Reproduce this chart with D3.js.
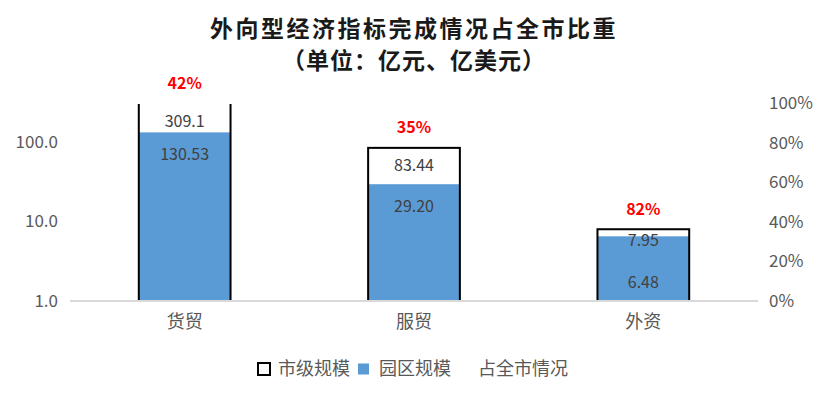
<!DOCTYPE html>
<html>
<head>
<meta charset="utf-8">
<script src="https://cdn.jsdelivr.net/npm/d3@7/dist/d3.min.js"></script>
<style>
  body { margin: 0; background: #fff; }
  svg { display: block; font-family: "Noto Sans CJK SC", "Noto Sans", sans-serif; }
</style>
</head>
<body>
<svg id="chart" width="828" height="399"></svg>
<script>
const categories = ['货贸', '服贸', '外资'];
const cityValues = [309.1, 83.44, 7.95];
const parkValues = [130.53, 29.20, 6.48];
const shareValues = [0.42, 0.35, 0.82];
const leftTicks = [1, 10, 100];
const rightTicks = [0, 0.2, 0.4, 0.6, 0.8, 1];
const titleLines = ['外向型经济指标完成情况占全市比重', '（单位：亿元、亿美元）'];
const legendNames = ['市级规模', '园区规模', '占全市情况'];

const svg = d3.select('#chart');
const margin = { left: 70, right: 70, top: 103, bottom: 98 };
const width = 828, height = 399;
const plotW = width - margin.left - margin.right;
const plotH = height - margin.top - margin.bottom;

const x = d3.scaleBand().domain(categories).range([margin.left, margin.left + plotW]).paddingInner(0.6).paddingOuter(0.3);
const y = d3.scaleLog().domain([1, 305]).range([margin.top + plotH, margin.top]);
const y2 = d3.scaleLinear().domain([0, 1]).range([margin.top + plotH, margin.top]);

const textColor = '#595959';
const blue = '#5b9bd5';

// title
svg.append('g').selectAll('text')
  .data(titleLines)
  .join('text')
  .attr('x', 414)
  .attr('y', (d, i) => 37 + i * 32)
  .attr('text-anchor', 'middle')
  .attr('font-size', 23)
  .attr('font-weight', 'bold')
  .attr('letter-spacing', (d, i) => i === 0 ? 2.5 : 1)
  .attr('fill', '#1a1a1a')
  .text((d) => d);

svg.append('defs').append('clipPath').attr('id', 'plotclip')
  .append('rect')
  .attr('x', 0).attr('y', margin.top + 1)
  .attr('width', width).attr('height', plotH + 2);

const bars = svg.append('g').attr('clip-path', 'url(#plotclip)');

// park bars (filled)
bars.selectAll('rect.park')
  .data(parkValues)
  .join('rect')
  .attr('class', 'park')
  .attr('x', (d, i) => x(categories[i]))
  .attr('width', x.bandwidth())
  .attr('y', (d) => y(d))
  .attr('height', (d) => y(1) - y(d))
  .attr('fill', blue);

// city bars (outline)
bars.selectAll('rect.city')
  .data(cityValues)
  .join('rect')
  .attr('class', 'city')
  .attr('x', (d, i) => x(categories[i]))
  .attr('width', x.bandwidth())
  .attr('y', (d) => y(d))
  .attr('height', (d) => y(1) - y(d))
  .attr('fill', 'none')
  .attr('stroke', '#000')
  .attr('stroke-width', 2);

// x axis line
svg.append('line')
  .attr('x1', margin.left).attr('x2', margin.left + plotW)
  .attr('y1', y(1)).attr('y2', y(1))
  .attr('stroke', '#d9d9d9').attr('stroke-width', 2);

// left axis labels
svg.append('g').selectAll('text')
  .data(leftTicks)
  .join('text')
  .attr('x', 58)
  .attr('y', (d) => y(d))
  .attr('dy', '0.35em')
  .attr('text-anchor', 'end')
  .attr('font-size', 17)
  .attr('fill', textColor)
  .text((d) => d3.format('.1f')(d));

// right axis labels
svg.append('g').selectAll('text')
  .data(rightTicks)
  .join('text')
  .attr('x', 769)
  .attr('y', (d) => y2(d))
  .attr('dy', '0.35em')
  .attr('font-size', 17)
  .attr('fill', textColor)
  .text((d) => d3.format('.0%')(d));

// category labels
svg.append('g').selectAll('text')
  .data(categories)
  .join('text')
  .attr('x', (d) => x(d) + x.bandwidth() / 2)
  .attr('y', 322)
  .attr('dy', '0.35em')
  .attr('text-anchor', 'middle')
  .attr('font-size', 18)
  .attr('fill', textColor)
  .text((d) => d);

const cx = (i) => x(categories[i]) + x.bandwidth() / 2;
const topOf = (d) => Math.max(y(d), margin.top);

// city labels
svg.append('g').selectAll('text')
  .data(cityValues)
  .join('text')
  .attr('x', (d, i) => cx(i))
  .attr('y', (d) => topOf(d) + (y(1) - y(d) < 80 ? 11 : 18))
  .attr('dy', '0.35em')
  .attr('text-anchor', 'middle')
  .attr('font-size', 16)
  .attr('fill', '#404040')
  .text((d) => d >= 100 ? d3.format('.1f')(d) : d3.format('.2f')(d));

// park labels
svg.append('g').selectAll('text')
  .data(parkValues)
  .join('text')
  .attr('x', (d, i) => cx(i))
  .attr('y', (d) => (y(1) - y(d) < 80 ? y(1) - 19 : y(d) + 22))
  .attr('dy', '0.35em')
  .attr('text-anchor', 'middle')
  .attr('font-size', 16)
  .attr('fill', '#404040')
  .text((d) => d3.format('.2f')(d));

// share labels above city bars
svg.append('g').selectAll('text')
  .data(shareValues)
  .join('text')
  .attr('x', (d, i) => cx(i))
  .attr('y', (d, i) => topOf(cityValues[i]) - 20)
  .attr('dy', '0.35em')
  .attr('text-anchor', 'middle')
  .attr('font-size', 16)
  .attr('font-weight', 'bold')
  .attr('fill', '#ff0000')
  .text((d) => d3.format('.0%')(d));

// legend
const legend = svg.append('g');
const legendX = [257, 358, 478];
legendNames.forEach((name, i) => {
  const g = legend.append('g').attr('transform', `translate(${legendX[i]}, 369)`);
  if (i === 0) {
    g.append('rect').attr('x', 1).attr('y', -6).attr('width', 12).attr('height', 12)
      .attr('fill', 'none').attr('stroke', '#000').attr('stroke-width', 2);
  } else if (i === 1) {
    g.append('rect').attr('x', 0).attr('y', -5.5).attr('width', 11).attr('height', 11).attr('fill', blue);
  }
  g.append('text')
    .attr('x', i === 2 ? 0 : 21)
    .attr('dy', '0.35em')
    .attr('font-size', 18)
    .attr('fill', textColor)
    .text(name);
});
</script>
</body>
</html>
